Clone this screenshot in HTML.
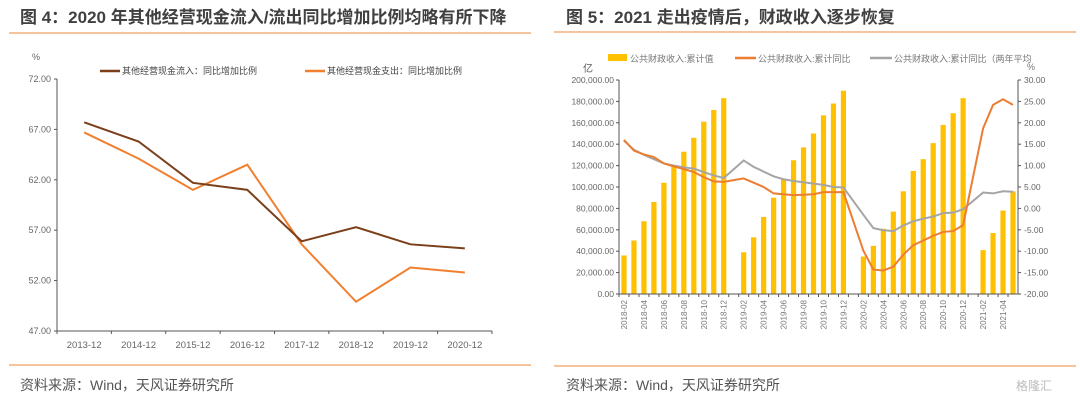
<!DOCTYPE html>
<html><head><meta charset="utf-8">
<style>
html,body{margin:0;padding:0;background:#fff;}
svg{display:block;font-family:"Liberation Sans","Noto Sans CJK SC",sans-serif;}
</style></head>
<body>
<svg id="s" width="1080" height="402" viewBox="0 0 1080 402" xmlns="http://www.w3.org/2000/svg">
<text x="20" y="23" font-size="17" font-weight="bold" fill="#404040">图 4：2020 年其他经营现金流入/流出同比增加比例均略有所下降</text>
<line x1="9" y1="33" x2="531" y2="33" stroke="#f0a060" stroke-width="1.2"/>
<line x1="9" y1="365" x2="531" y2="365" stroke="#f0a060" stroke-width="1.2"/>
<text x="20" y="390" font-size="14" fill="#555">资料来源：Wind，天风证券研究所</text>
<text x="566" y="23" font-size="17" font-weight="bold" fill="#404040">图 5：2021 走出疫情后，财政收入逐步恢复</text>
<line x1="554" y1="32" x2="1076" y2="32" stroke="#f0a060" stroke-width="1.2"/>
<line x1="554" y1="366" x2="1076" y2="366" stroke="#f0a060" stroke-width="1.2"/>
<text x="566" y="390" font-size="14" fill="#555">资料来源：Wind，天风证券研究所</text>
<text x="1016" y="390" font-size="12" fill="#bbb">格隆汇</text>
<text x="32" y="60" font-size="9" fill="#666">%</text>
<line x1="100" y1="71" x2="120" y2="71" stroke="#7b3f1a" stroke-width="2.5"/>
<text x="122" y="74" font-size="9" fill="#444">其他经营现金流入：同比增加比例</text>
<line x1="305" y1="71" x2="325" y2="71" stroke="#f08030" stroke-width="2.5"/>
<text x="327" y="74" font-size="9" fill="#444">其他经营现金支出：同比增加比例</text>
<rect x="608" y="54" width="19" height="7" fill="#ffc000"/>
<text x="630" y="62" font-size="9" fill="#777">公共财政收入:累计值</text>
<line x1="735" y1="58" x2="756" y2="58" stroke="#ed7d31" stroke-width="2.5"/>
<text x="758" y="62" font-size="9" fill="#777">公共财政收入:累计同比</text>
<line x1="870" y1="58" x2="892" y2="58" stroke="#a5a5a5" stroke-width="2.5"/>
<text x="894" y="62" font-size="9" fill="#777">公共财政收入:累计同比（两年平均</text>
<text x="583" y="72" font-size="10" fill="#555">亿</text>
<text x="1027" y="70" font-size="9" fill="#777">%</text>
<g id="L"></g><g id="R"></g>
</svg>
<script>
const lCats=["2013-12","2014-12","2015-12","2016-12","2017-12","2018-12","2019-12","2020-12"];
const lInflow=[67.7,65.8,61.7,61.0,55.9,57.3,55.6,55.2];
const lOutflow=[66.7,64.1,61.0,63.5,55.6,49.9,53.3,52.8];
const lTicks=[47,52,57,62,67,72];

const rMonths=["2018-02","2018-03","2018-04","2018-05","2018-06","2018-07","2018-08","2018-09","2018-10","2018-11","2018-12","2019-01","2019-02","2019-03","2019-04","2019-05","2019-06","2019-07","2019-08","2019-09","2019-10","2019-11","2019-12","2020-01","2020-02","2020-03","2020-04","2020-05","2020-06","2020-07","2020-08","2020-09","2020-10","2020-11","2020-12","2021-01","2021-02","2021-03","2021-04","2021-05"];
const rRevenue=[36000,50000,68000,86000,104000,120000,133000,146000,161000,172000,183000,null,39000,53000,72000,90000,107000,125000,137000,150000,167000,178000,190000,null,35000,45000,61000,77000,96000,115000,126000,141000,158000,169000,183000,null,41000,57000,78000,96000];
const rYoy=[16,13.5,12.6,12,10.5,9.8,9.2,8.5,7.3,6.3,6.2,null,7,6,5,3.5,3.3,3.1,3.2,3.3,3.8,3.8,3.8,null,-9.9,-14.3,-14.5,-13.6,-10.8,-8.6,-7.5,-6.4,-5.5,-5.3,-3.9,null,18.7,24.2,25.5,24.2];
const rTwoYear=[15.8,13.7,12.5,11.5,10.5,10,9.6,9.3,8.5,7.7,7.1,null,11.2,9.7,8.6,7.5,6.8,6.4,6.1,5.8,5.5,5,4.9,null,-1.5,-4.6,-5.1,-5.3,-4,-3,-2.4,-1.9,-1.1,-1,-0.2,null,3.7,3.5,4,3.9];
const rLeftTicks=[0,20000,40000,60000,80000,100000,120000,140000,160000,180000,200000];
const rRightTicks=[-20,-15,-10,-5,0,5,10,15,20,25,30];

const NS="http://www.w3.org/2000/svg";
function mk(p,tag,a){const e=document.createElementNS(NS,tag);for(const k in a)e.setAttribute(k,a[k]);p.appendChild(e);return e;}
// Left chart
const L=document.getElementById('L');
const lx0=57,lx1=492,ly0=331,ly1=79;
const lBand=(lx1-lx0)/lCats.length;
const lxs=i=>lx0+lBand*(i+0.5);
const lys=v=>ly0-(v-47)/(72-47)*(ly0-ly1);
let e=mk(L,'line',{x1:lx0,y1:ly1,x2:lx0,y2:ly0,stroke:'#555'});


e=mk(L,'line',{x1:lx0,y1:ly0,x2:lx1,y2:ly0,stroke:'#555'});


lTicks.forEach(t=>{
 mk(L,'line',{x1:lx0-3,y1:lys(t),x2:lx0,y2:lys(t),stroke:'#555'});
 e=mk(L,'text',{x:lx0-6,y:lys(t)+3,'font-size':9,'text-anchor':'end',fill:'#666'});
 e.textContent=t.toFixed(2);
 
 
});
for(let i=0;i<=lCats.length;i++)mk(L,'line',{x1:lx0+lBand*i,y1:ly0,x2:lx0+lBand*i,y2:ly0+3,stroke:'#555'});
lCats.forEach((c,i)=>{
 e=mk(L,'text',{x:lxs(i),y:ly0+17,'font-size':9.5,'text-anchor':'middle',fill:'#666'});
 e.textContent=c;
 
 
});
function lpath(arr){return arr.map((v,i)=>(i?'L':'M')+lxs(i)+','+lys(v)).join('');}
e=mk(L,'path',{d:lpath(lOutflow),fill:'none',stroke:'#f08030','stroke-width':2});


e=mk(L,'path',{d:lpath(lInflow),fill:'none',stroke:'#7b3f1a','stroke-width':2});


// Right chart
const R=document.getElementById('R');
const rx0=619,rx1=1018,ry0=294,ry1=80;
const rBand=(rx1-rx0)/rMonths.length;
const rxs=i=>rx0+rBand*(i+0.5);
const rys=v=>ry0-v/200000*(ry0-ry1);
const rys2=v=>ry0-(v+20)/50*(ry0-ry1);
rRevenue.forEach((v,i)=>{
 if(v==null)return;
 e=mk(R,'rect',{x:rxs(i)-2.6,y:rys(v),width:5.2,height:ry0-rys(v),fill:'#ffc000'});
 
 
});
e=mk(R,'line',{x1:rx0,y1:ry1,x2:rx0,y2:ry0,stroke:'#555'});


e=mk(R,'line',{x1:rx1,y1:ry1,x2:rx1,y2:ry0,stroke:'#555'});


e=mk(R,'line',{x1:rx0,y1:ry0,x2:rx1,y2:ry0,stroke:'#555'});


rLeftTicks.forEach(t=>{
 mk(R,'line',{x1:rx0-3,y1:rys(t),x2:rx0,y2:rys(t),stroke:'#555'});
 e=mk(R,'text',{x:rx0-5,y:rys(t)+3,'font-size':8.5,'text-anchor':'end',fill:'#666'});
 e.textContent=t.toLocaleString('en-US',{minimumFractionDigits:2});
 
 
});
rRightTicks.forEach(t=>{
 mk(R,'line',{x1:rx1,y1:rys2(t),x2:rx1+3,y2:rys2(t),stroke:'#555'});
 e=mk(R,'text',{x:rx1+6,y:rys2(t)+3,'font-size':8.5,fill:'#666'});
 e.textContent=t.toFixed(2);
 
 
});
rMonths.forEach((m,i)=>{
 mk(R,'line',{x1:rx0+rBand*i,y1:ry0,x2:rx0+rBand*i,y2:ry0+3,stroke:'#555'});
 if(i%2)return;
 const x=rxs(i)+3,y=ry0+6;
 e=mk(R,'text',{x:x,y:y,'font-size':8,'text-anchor':'end',fill:'#777',transform:'rotate(-90 '+x+' '+y+')'});
 e.textContent=m;
 
 
});
function rpath(arr){let d='',f=true;arr.forEach((v,i)=>{if(v==null)return;d+=(f?'M':'L')+rxs(i)+','+rys2(v);f=false;});return d;}
e=mk(R,'path',{d:rpath(rTwoYear),fill:'none',stroke:'#a5a5a5','stroke-width':2});


e=mk(R,'path',{d:rpath(rYoy),fill:'none',stroke:'#ed7d31','stroke-width':2});


</script>
</body></html>
